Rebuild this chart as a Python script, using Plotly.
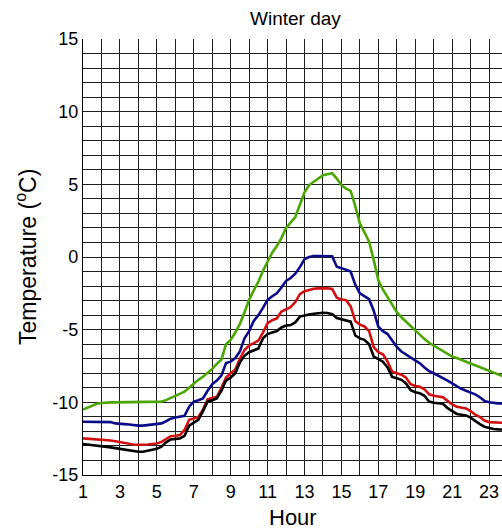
import numpy as np
import plotly.graph_objects as go

# Hour of day, quarter-hour resolution
hours = np.arange(1, 24.01, 0.25)

green = [-10.5, -10.35, -10.2, -10.1, -10.05, -10.0, -10.0, -10.0, -10.0, -10.0, -10.0, -10.0, -10.0,
         -10.0, -10.0, -10.0, -10.0, -9.95, -9.85, -9.7, -9.55, -9.45, -9.27, -9.0, -8.7, -8.45,
         -8.24, -8.0, -7.7, -7.35, -7.05, -6.0, -5.7, -5.2, -4.6, -3.8, -2.95, -2.3, -1.7, -0.95,
         -0.35, 0.3, 0.75, 1.3, 2.0, 2.35, 2.75, 3.6, 4.45, 4.95, 5.2, 5.4, 5.62, 5.7, 5.76, 5.4,
         4.95, 4.7, 4.55, 3.5, 2.3, 1.7, 1.05, -0.2, -1.6, -2.25, -2.8, -3.35, -3.8, -4.15, -4.45,
         -4.8, -5.1, -5.35, -5.65, -5.9, -6.1, -6.3, -6.5, -6.68, -6.85, -6.95, -7.08, -7.2, -7.33,
         -7.45, -7.58, -7.72, -7.85, -7.95, -8.08, -8.2, -8.3]

blue = [-11.34, -11.34, -11.34, -11.34, -11.34, -11.34, -11.36, -11.45, -11.5, -11.5, -11.52,
        -11.58, -11.6, -11.6, -11.55, -11.5, -11.5, -11.45, -11.3, -11.12, -11.05, -10.98, -10.93,
        -10.3, -9.95, -9.85, -9.73, -9.2, -8.75, -8.5, -8.15, -7.3, -7.2, -6.95, -6.5, -5.6, -5.1,
        -4.4, -4.0, -3.5, -2.95, -2.7, -2.5, -2.1, -1.65, -1.45, -1.15, -0.7, -0.15, 0.0, 0.07,
        0.07, 0.07, 0.07, 0.05, -0.67, -0.8, -0.88, -1.0, -1.9, -2.5, -2.72, -2.9, -3.7, -4.8,
        -5.1, -5.3, -5.75, -6.18, -6.5, -6.7, -6.9, -7.1, -7.32, -7.6, -7.85, -8.0, -8.15, -8.35,
        -8.5, -8.7, -8.9, -9.07, -9.2, -9.32, -9.45, -9.65, -9.9, -10.0, -10.05, -10.07, -10.08,
        -10.08]

red = [-12.48, -12.5, -12.52, -12.55, -12.56, -12.6, -12.63, -12.68, -12.72, -12.78, -12.85,
       -12.92, -12.94, -12.92, -12.9, -12.87, -12.83, -12.72, -12.5, -12.33, -12.3, -12.25, -11.9,
       -11.2, -11.12, -11.0, -10.5, -9.8, -9.7, -9.62, -9.0, -8.3, -8.0, -7.75, -7.0, -6.4, -6.1,
       -5.9, -5.75, -5.2, -4.55, -4.35, -4.22, -3.75, -3.6, -3.45, -3.1, -2.55, -2.35, -2.25,
       -2.18, -2.16, -2.15, -2.15, -2.2, -2.8, -2.93, -2.97, -3.4, -4.4, -4.65, -4.78, -5.1, -6.2,
       -6.55, -6.7, -7.2, -7.9, -8.0, -8.1, -8.3, -8.75, -8.88, -8.93, -9.1, -9.45, -9.55, -9.6,
       -9.65, -9.9, -10.15, -10.3, -10.38, -10.42, -10.6, -10.85, -11.0, -11.25, -11.36, -11.39,
       -11.4, -11.41, -11.42]

black = [-12.87, -12.9, -12.95, -13.0, -13.0, -13.05, -13.1, -13.15, -13.2, -13.25, -13.3,
         -13.38, -13.4, -13.4, -13.35, -13.3, -13.2, -13.05, -12.75, -12.55, -12.5, -12.48, -12.3,
         -11.6, -11.4, -11.2, -10.6, -9.95, -9.85, -9.73, -9.2, -8.5, -8.3, -8.0, -7.25, -6.8,
         -6.55, -6.4, -6.3, -5.6, -5.3, -5.2, -5.1, -4.85, -4.72, -4.68, -4.5, -4.1, -4.0, -3.95,
         -3.9, -3.85, -3.84, -3.85, -3.93, -4.2, -4.28, -4.34, -4.45, -5.4, -5.6, -5.7, -6.0,
         -6.85, -7.05, -7.2, -7.6, -8.25, -8.35, -8.45, -8.7, -9.16, -9.3, -9.38, -9.55, -9.95,
         -10.03, -10.07, -10.1, -10.4, -10.62, -10.8, -10.85, -10.9, -11.05, -11.3, -11.5, -11.68,
         -11.78, -11.84, -11.86, -11.87, -11.88]

x_ticks = list(range(1, 24, 2))
y_ticks = [-15, -10, -5, 0, 5, 10, 15]

series = [
    (green, "#4ca600"),
    (blue, "#0c0c8a"),
    (red, "#d21010"),
    (black, "#000000"),
]

fig = go.Figure()
for vals, col in series:
    fig.add_trace(go.Scatter(x=hours, y=vals, mode="lines",
                             line=dict(color=col, width=2.6), showlegend=False))

grid_col = "#1e1e1e"
fig.update_layout(
    width=502, height=530,
    margin=dict(l=83, r=0, t=39, b=55),
    paper_bgcolor="white", plot_bgcolor="white",
    font=dict(family="Arial, Liberation Sans, sans-serif", color="black"),
    showlegend=False,
)
fig.update_xaxes(
    range=[1, 23.7], tickvals=x_ticks, ticktext=[str(v) for v in x_ticks],
    showgrid=True, gridcolor=grid_col, gridwidth=1,
    minor=dict(dtick=1, tick0=1, showgrid=True, gridcolor=grid_col, gridwidth=1),
    showline=True, linecolor="black", linewidth=1.2,
    ticks="", tickfont=dict(size=18), zeroline=False,
)
fig.update_yaxes(
    range=[-15, 15], tickvals=y_ticks, ticktext=[str(v) for v in y_ticks],
    showgrid=True, gridcolor=grid_col, gridwidth=1,
    minor=dict(dtick=1, tick0=0, showgrid=True, gridcolor=grid_col, gridwidth=1),
    showline=True, linecolor="black", linewidth=1.2, mirror=False,
    ticks="", tickfont=dict(size=18), zeroline=False,
)

fig.add_annotation(text="Winter day", xref="paper", yref="paper", x=0.506, y=1,
                   yshift=21, showarrow=False, font=dict(size=19), xanchor="center", yanchor="middle")
fig.add_annotation(text="Hour", xref="paper", yref="paper", x=0.502, y=0,
                   yshift=-42, showarrow=False, font=dict(size=22), xanchor="center", yanchor="middle")
fig.add_annotation(text="Temperature (<sup>o</sup>C)", xref="paper", yref="paper", x=0, y=0.5,
                   xshift=-57, textangle=-90, showarrow=False, font=dict(size=23),
                   xanchor="center", yanchor="middle")

fig.write_html("out.html")
